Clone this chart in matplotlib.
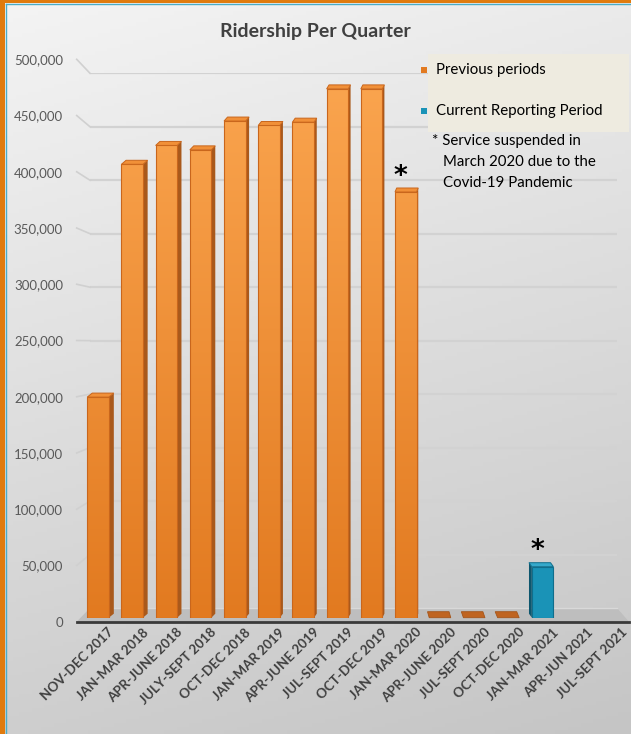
import numpy as np
import matplotlib
matplotlib.use("Agg")
import matplotlib.pyplot as plt
from matplotlib.patches import Polygon, Rectangle
from matplotlib.colors import LinearSegmentedColormap
from matplotlib.transforms import offset_copy

# data
quarters = ["NOV-DEC 2017", "JAN-MAR 2018", "APR-JUNE 2018", "JULY-SEPT 2018",
            "OCT-DEC 2018", "JAN-MAR 2019", "APR-JUNE 2019", "JUL-SEPT 2019",
            "OCT-DEC 2019", "JAN-MAR 2020", "APR-JUNE 2020", "JUL-SEPT 2020",
            "OCT-DEC 2020", "JAN-MAR 2021", "APR-JUN 2021", "JUL-SEPT 2021"]
ridership = [199000, 409000, 426000, 422000, 448000, 444000, 447000, 477000,
             477000, 384000, 0, 0, 0, 46000, np.nan, np.nan]
current_quarters = ["JAN-MAR 2021"]
starred_quarters = ["JAN-MAR 2020", "JAN-MAR 2021"]
y_ticks = list(range(0, 500001, 50000))
legend_labels = ["Previous periods", "Current Reporting Period"]
note_lines = ["* Service suspended in", "March 2020 due to the", "Covid-19 Pandemic"]

# colours
ORANGE_LO, ORANGE_HI = "#E27A20", "#FBA650"
ORANGE_SIDE, ORANGE_EDGE, ORANGE_CAP = "#A9591B", "#C9661C", "#F19038"
ORANGE_FLAT = "#BF6421"
BLUE, BLUE_SIDE, BLUE_CAP = "#1A93B7", "#0D566E", "#36A9CB"
BORDER, INNER_LINE = "#E07B0E", "#4BACC6"
TEXT = "#404040"

plt.rcParams["font.family"] = ["Lato", "DejaVu Sans"]

W, H = 631, 734
fig = plt.figure(figsize=(W / 100, H / 100), dpi=100)


def box(x0, x1, top, bottom):
    # pixel box (from the top-left corner) -> figure fraction rect
    return [x0 / W, 1 - bottom / H, (x1 - x0) / W, (bottom - top) / H]


def pt(ax, x, y, dx=0.0, dy=0.0):
    # data point of an axes, nudged by some pixels, in figure fraction
    p = ax.transData.transform((x, y))
    return fig.transFigure.inverted().transform((p[0] + dx, p[1] + dy))


# background gradient + border
ax_bg = fig.add_axes([0, 0, 1, 1], zorder=0)
yy, xx = np.mgrid[0:1:200j, 0:1:200j]
bg_cmap = LinearSegmentedColormap.from_list("bg", ["#F4F4F4", "#C5C5C5"])
ax_bg.imshow(0.8 * yy + 0.2 * xx, cmap=bg_cmap, extent=[0, 1, 0, 1],
             origin="upper", aspect="auto")
ax_bg.set_xlim(0, 1)
ax_bg.set_ylim(0, 1)
ax_bg.set_axis_off()
ax_bg.add_patch(Rectangle((0, 1 - 3 / H), 1, 3 / H, color=BORDER, lw=0))
ax_bg.add_patch(Rectangle((0, 0), 5 / W, 1, color=BORDER, lw=0))
ax_bg.plot([5.5 / W, 5.5 / W], [0, 1 - 3.5 / H], color=INNER_LINE, lw=1)
ax_bg.plot([5.5 / W, 1], [1 - 3.5 / H, 1 - 3.5 / H], color=INNER_LINE, lw=1)

# three planes of the 3d box: back wall, bar plane, front edge
ax_back = fig.add_axes(box(90, 617, 73.3, 608), zorder=1)
ax_front = fig.add_axes(box(76.7, 629, 59.3, 621.7), zorder=2)
ax_mid = fig.add_axes(box(80.9, 628.1, 63.4, 617.7), zorder=3)
for ax in (ax_back, ax_front, ax_mid):
    ax.set_xlim(-0.5, len(quarters) - 0.5)
    ax.set_ylim(0, 500000)
    ax.set_facecolor("none")
    for s in ax.spines.values():
        s.set_visible(False)
    ax.set_xticks([])

ax_back.set_yticks(y_ticks[1:])
ax_back.grid(axis="y", color="#D2D2D2", lw=1.6)
ax_back.tick_params(length=0, labelleft=False)

ax_front.set_yticks(y_ticks)
ax_front.set_yticklabels([f"{t:,}" for t in y_ticks])
ax_front.tick_params(axis="y", length=0, pad=9.9, labelsize=9.5, labelcolor="#595959")

ax_mid.set_yticks([])

# side wall lines joining the labels to the back grid
for t in y_ticks[1:]:
    a, b = pt(ax_front, -0.5, t), pt(ax_back, -0.5, t)
    ax_front.plot([a[0], b[0]], [a[1], b[1]], transform=fig.transFigure,
                  color="#D0D0D0", lw=1.2, clip_on=False)

# floor
x_lo, x_hi = -0.5, len(quarters) - 0.5
floor = [pt(ax_front, x_lo, 0), pt(ax_front, x_hi, 0), pt(ax_back, x_hi, 0), pt(ax_back, x_lo, 0)]
ax_mid.add_patch(Polygon(floor, closed=True, transform=fig.transFigure, facecolor="#BEBEBE",
                         edgecolor="none", zorder=1, clip_on=False))
ax_mid.plot([floor[3][0], floor[2][0]], [floor[3][1], floor[2][1]], transform=fig.transFigure,
            color="#D9D9D9", lw=1, zorder=1.5, clip_on=False)
ax_mid.plot([floor[0][0], floor[1][0]], [floor[0][1], floor[1][1]], transform=fig.transFigure,
            color="#3A3A3A", lw=2, zorder=1.5, clip_on=False)

# bars
bar_w = 0.63
orange_cmap = LinearSegmentedColormap.from_list("or", [ORANGE_LO, ORANGE_HI])
grad = np.linspace(0, 1, 256).reshape(-1, 1)
vanish_x = 420

for i, (q, v) in enumerate(zip(quarters, ridership)):
    if np.isnan(v):
        continue
    cur = q in current_quarters
    left, right = i - bar_w / 2, i + bar_w / 2
    cx = ax_mid.transData.transform((i, 0))[0]
    side = np.sign(vanish_x - cx) * (1.5 + 0.011 * abs(vanish_x - cx))

    if v > 0:
        bar = ax_mid.bar(i, v, width=bar_w, facecolor=BLUE if cur else "none",
                         edgecolor="#0F6E8C" if cur else ORANGE_EDGE, lw=0.8, zorder=4)[0]
        if not cur:
            im = ax_mid.imshow(grad, cmap=orange_cmap, extent=[left, right, 0, 500000],
                               origin="lower", aspect="auto", zorder=3.9)
            im.set_clip_path(bar)
        cap = 4
        ex = right if side > 0 else left
        side_pts = [pt(ax_mid, ex, 0), pt(ax_mid, ex, v), pt(ax_mid, ex, v, side, cap),
                    pt(ax_mid, ex, 0, side, cap)]
        ax_mid.add_patch(Polygon(side_pts, transform=fig.transFigure,
                                 facecolor=BLUE_SIDE if cur else ORANGE_SIDE,
                                 edgecolor="none", zorder=3.8, clip_on=False))
        cap_pts = [pt(ax_mid, left, v), pt(ax_mid, right, v), pt(ax_mid, right, v, side, cap),
                   pt(ax_mid, left, v, side, cap)]
        ax_mid.add_patch(Polygon(cap_pts, transform=fig.transFigure,
                                 facecolor=BLUE_CAP if cur else ORANGE_CAP,
                                 edgecolor="#0F6E8C" if cur else ORANGE_EDGE, lw=0.7,
                                 zorder=4.1, clip_on=False))
    else:
        # empty quarters only show the flat top of the column
        cap_pts = [pt(ax_mid, left, v), pt(ax_mid, right, v), pt(ax_mid, right, v, side, 6),
                   pt(ax_mid, left, v, side, 6)]
        ax_mid.add_patch(Polygon(cap_pts, transform=fig.transFigure, facecolor=ORANGE_FLAT,
                                 edgecolor="#A4551A", lw=0.6, zorder=4, clip_on=False))

    if q in starred_quarters:
        ax_mid.annotate("*", (i, v), xytext=(-3.6, 6), textcoords="offset points",
                        ha="center", va="baseline", fontsize=19, fontweight="bold",
                        family="DejaVu Sans", color="black", zorder=6,
                        annotation_clip=False)

# category labels
lab_tr = offset_copy(ax_mid.transData, fig=fig, x=7, y=-6, units="points")
for i, q in enumerate(quarters):
    ax_mid.text(i, 0, q, transform=lab_tr, rotation=45, rotation_mode="anchor",
                ha="right", va="top", fontsize=9.6, fontweight="bold", color=TEXT,
                clip_on=False)

# title
fig.text(315 / W, 1 - 32 / H, "Ridership Per Quarter", ha="center", va="center",
         fontsize=14, fontweight="bold", color=TEXT, zorder=5)

# legend box, drawn by hand to match the original layout
ax_mid.add_patch(Rectangle((428 / W, 1 - 132 / H), 201 / W, 78 / H, transform=fig.transFigure,
                           facecolor="#EEEBE0", edgecolor="none", zorder=5, clip_on=False))
for lab, col, ypx in zip(legend_labels, [ORANGE_LO, BLUE], [70, 111]):
    ax_mid.add_patch(Rectangle((420.7 / W, 1 - (ypx + 3) / H), 6 / W, 6 / H,
                               transform=fig.transFigure, facecolor=col, edgecolor="none",
                               zorder=6, clip_on=False))
    fig.text(436 / W, 1 - ypx / H, lab, ha="left", va="center", fontsize=10.8,
             color="black", zorder=6)

for k, (line, ypx) in enumerate(zip(note_lines, [141, 162, 183])):
    fig.text((432 if k == 0 else 443) / W, 1 - ypx / H, line, ha="left", va="center",
             fontsize=10.8, color="black", zorder=6)

fig.savefig("out.png", dpi=100)
